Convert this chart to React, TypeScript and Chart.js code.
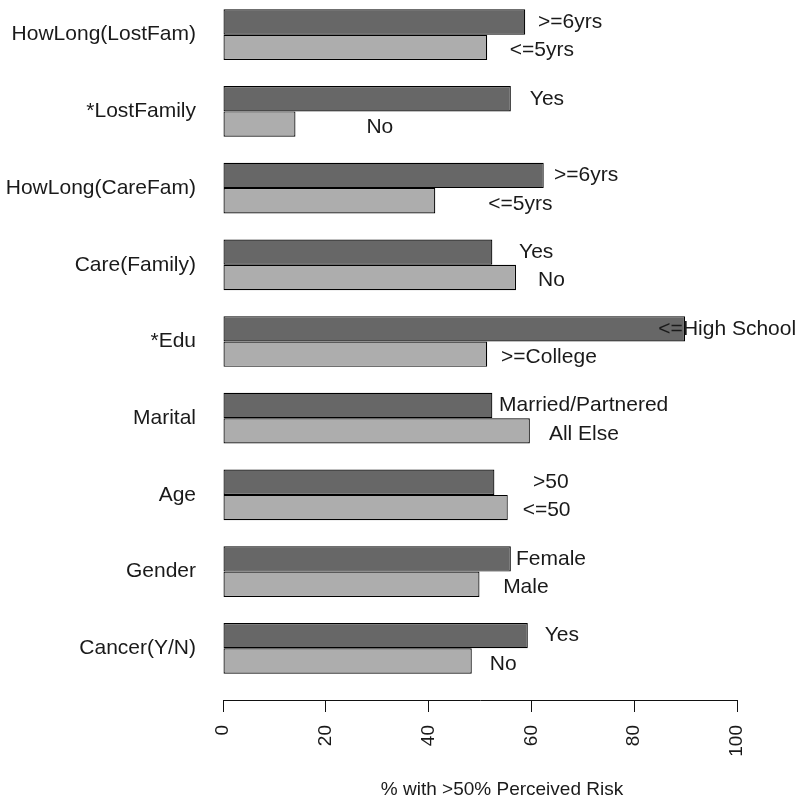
import React, { useEffect, useRef } from "react";
import { Chart, registerables } from "chart.js";

Chart.register(...registerables);

const categories = [
  "HowLong(LostFam)",
  "*LostFamily",
  "HowLong(CareFam)",
  "Care(Family)",
  "*Edu",
  "Marital",
  "Age",
  "Gender",
  "Cancer(Y/N)",
];

const darkValues = [58.8, 56.0, 62.4, 52.4, 89.9, 52.4, 52.8, 56.0, 59.3];
const lightValues = [51.4, 14.1, 41.3, 57.0, 51.4, 59.7, 55.4, 49.9, 48.4];

const darkLabels = [">=6yrs", "Yes", ">=6yrs", "Yes", "<=High School", "Married/Partnered", ">50", "Female", "Yes"];
const lightLabels = ["<=5yrs", "No", "<=5yrs", "No", ">=College", "All Else", "<=50", "Male", "No"];

const darkLabelX = [61.3, 59.7, 64.4, 57.6, 84.7, 53.7, 60.3, 57.0, 62.6];
const lightLabelX = [55.8, 27.9, 51.6, 61.3, 54.1, 63.4, 58.3, 54.5, 51.9];

const xTicks = [0, 20, 40, 60, 80, 100];
const xTitle = "% with >50% Perceived Risk";

const FONT = '"Liberation Sans", Arial, sans-serif';

export default function App() {
  const ref = useRef<HTMLCanvasElement | null>(null);

  useEffect(() => {
    document.body.style.margin = "0";
    const canvas = ref.current;
    if (!canvas) return;

    const labelPlugin = {
      id: "barLabels",
      afterDraw(chart: any) {
        const ctx = chart.ctx;
        const xs = chart.scales.x;
        ctx.save();
        ctx.font = `21px ${FONT}`;
        ctx.fillStyle = "#1a1a1a";
        ctx.textAlign = "left";
        ctx.textBaseline = "middle";
        const m0 = chart.getDatasetMeta(0);
        const m1 = chart.getDatasetMeta(1);
        categories.forEach((_, i) => {
          ctx.fillText(darkLabels[i], xs.getPixelForValue(darkLabelX[i]), m0.data[i].y);
          ctx.fillText(lightLabels[i], xs.getPixelForValue(lightLabelX[i]), m1.data[i].y + 3);
        });
        ctx.font = `19px ${FONT}`;
        ctx.textAlign = "center";
        const ca = chart.chartArea;
        ctx.fillText(xTitle, (ca.left + ca.right) / 2 + 22, 790);
        ctx.restore();
      },
    };

    const chart = new Chart(canvas, {
      type: "bar",
      data: {
        datasets: [
          {
            label: "dark",
            data: darkValues.map((v, i) => ({ x: v, y: i })),
            backgroundColor: "#676767",
            borderColor: "#000000",
            borderWidth: 1.2,
            borderSkipped: false,
            categoryPercentage: 0.661,
            barPercentage: 1,
          },
          {
            label: "light",
            data: lightValues.map((v, i) => ({ x: v, y: i })),
            backgroundColor: "#adadad",
            borderColor: "#000000",
            borderWidth: 1.2,
            borderSkipped: false,
            categoryPercentage: 0.661,
            barPercentage: 1,
          },
        ],
      },
      options: {
        indexAxis: "y",
        responsive: false,
        animation: false,
        maintainAspectRatio: false,
        layout: { autoPadding: false, padding: { left: 0, right: 63, top: 0, bottom: 0 } },
        plugins: {
          legend: { display: false },
          tooltip: { enabled: false },
          title: { display: false },
        },
        scales: {
          y: {
            type: "linear",
            reverse: true,
            offset: false,
            min: -0.4524,
            max: 8.674,
            afterBuildTicks: (scale: any) => {
              scale.ticks = categories.map((_, i) => ({ value: i }));
            },
            afterFit: (scale: any) => {
              scale.width = 223;
              scale.paddingTop = 0;
              scale.paddingBottom = 0;
            },
            grid: { display: false, drawTicks: false, tickLength: 0, offset: false },
            border: { display: false },
            ticks: {
              autoSkip: false,
              padding: 27,
              color: "#1a1a1a",
              font: { family: FONT, size: 21 },
              callback: (v: any) => categories[v as number] ?? "",
            },
          },
          x: {
            type: "linear",
            min: 0,
            max: 100,
            afterBuildTicks: (scale: any) => {
              scale.ticks = xTicks.map((v) => ({ value: v }));
            },
            afterFit: (scale: any) => {
              scale.height = 107;
              scale.paddingLeft = 0;
              scale.paddingRight = 0;
            },
            grid: {
              display: true,
              drawOnChartArea: false,
              drawTicks: true,
              tickLength: 12,
              color: "#111111",
              lineWidth: 1,
            },
            border: { display: true, color: "#111111", width: 1 },
            ticks: {
              autoSkip: false,
              minRotation: 90,
              maxRotation: 90,
              padding: 13,
              color: "#1a1a1a",
              font: { family: FONT, size: 19 },
            },
          },
        },
      },
      plugins: [labelPlugin],
    } as any);

    return () => chart.destroy();
  }, []);

  return (
    <div style={{ position: "absolute", left: 0, top: 0, width: 800, height: 807 }}>
      <canvas ref={ref} width={800} height={807} style={{ width: 800, height: 807, display: "block" }} />
    </div>
  );
}
